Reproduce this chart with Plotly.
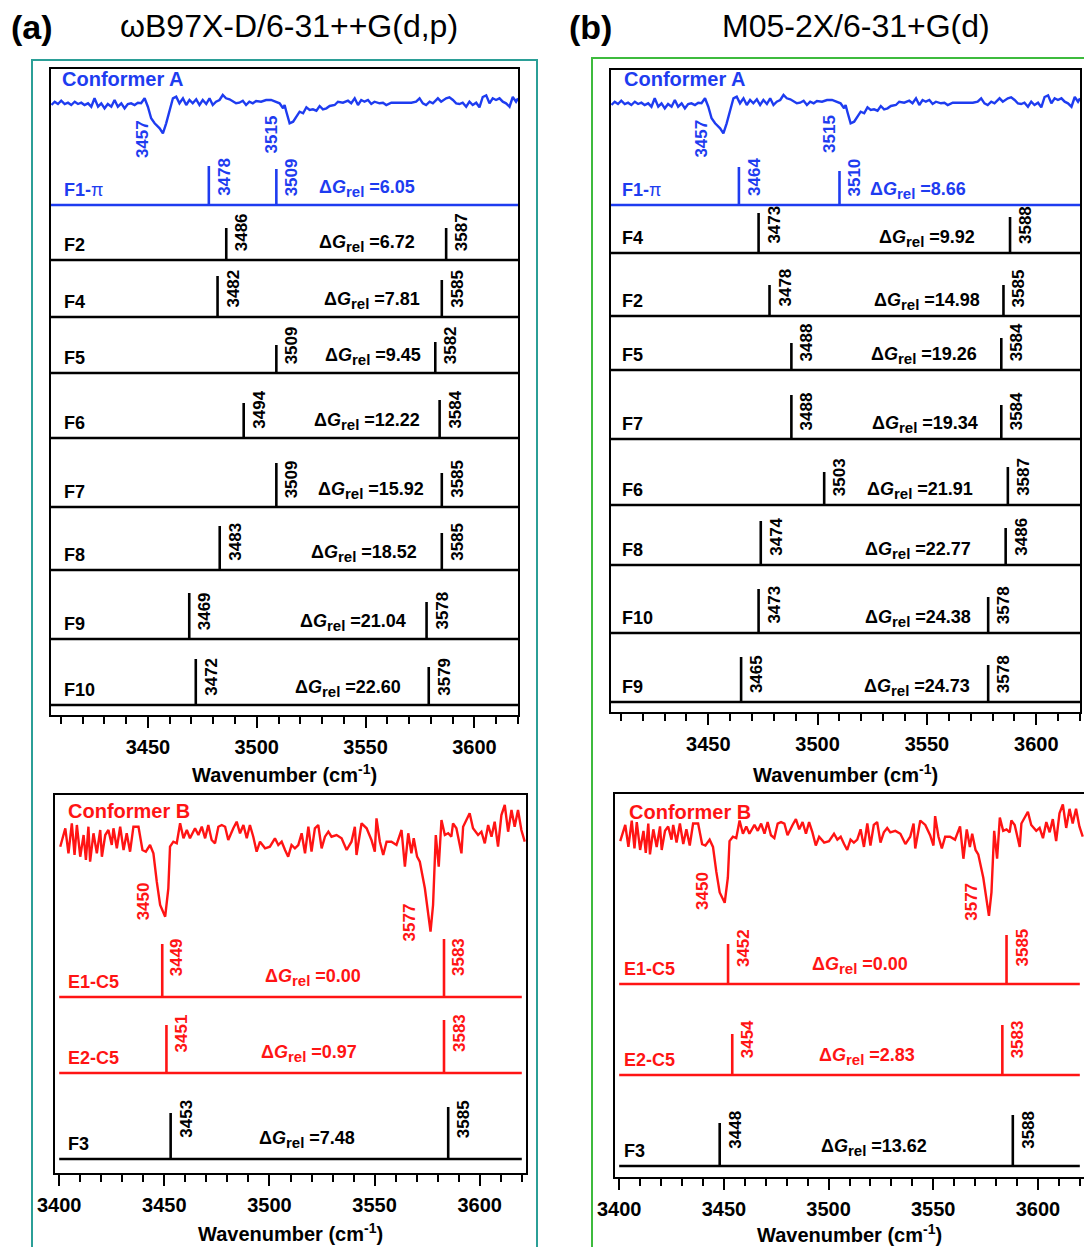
import plotly.graph_objects as go

# ===================== DATA =====================
# Experimental IR-UV spectra (relative depletion, a.u.)
SPEC_A_WN = [3405.7, 3407.2, 3408.7, 3410.2, 3411.8, 3413.3, 3414.8, 3416.4, 3417.9, 3419.4,
             3420.9, 3422.5, 3424.0, 3425.5, 3427.1, 3428.6, 3430.1, 3431.6, 3433.2, 3434.7,
             3436.2, 3437.8, 3439.3, 3440.8, 3442.3, 3443.9, 3445.4, 3446.9, 3448.5, 3450.0,
             3451.5, 3453.1, 3455.4, 3456.9, 3458.4, 3459.9, 3461.5, 3463.0, 3464.5, 3466.1,
             3467.6, 3469.1, 3470.6, 3472.2, 3473.7, 3475.2, 3476.8, 3478.3, 3479.8, 3481.3,
             3482.9, 3484.4, 3485.9, 3487.5, 3489.0, 3490.5, 3492.0, 3493.6, 3495.1, 3496.6,
             3498.2, 3499.7, 3502.0, 3504.3, 3506.6, 3508.9, 3510.5, 3512.1, 3512.8, 3513.6,
             3515.1, 3516.7, 3518.2, 3519.7, 3521.3, 3522.8, 3524.3, 3525.8, 3527.4, 3528.9,
             3530.4, 3532.0, 3533.5, 3535.8, 3537.3, 3539.6, 3541.9, 3543.4, 3545.0, 3546.5,
             3548.0, 3549.5, 3551.1, 3552.6, 3554.1, 3556.4, 3558.0, 3559.5, 3561.8, 3564.1,
             3566.4, 3568.7, 3571.0, 3573.2, 3574.8, 3576.3, 3577.8, 3579.4, 3580.9, 3583.2,
             3584.7, 3587.0, 3588.5, 3590.1, 3591.6, 3593.1, 3594.6, 3596.2, 3597.7, 3599.2,
             3600.8, 3602.3, 3603.8, 3605.4, 3606.9, 3608.4, 3609.9, 3611.5, 3613.0, 3614.5,
             3616.1, 3617.6, 3619.1, 3620.0]
SPEC_A_INT = [-2.0, 1.3, -1.0, 2.3, -1.0, 0.3, -2.0, 1.3, -1.0, 0.3,
              -2.0, -0.3, -3.7, 4.7, -3.7, -0.3, -5.3, -1.0, -3.7, 3.0,
              -3.7, -0.3, -5.3, -1.0, -0.3, -2.0, 0.3, -0.3, 4.7, -3.7,
              -15.3, -20.3, -25.3, -30.3, -20.3, -7.0, 4.7, 6.3, -0.3, 4.7,
              -2.0, 3.0, -0.3, 3.7, -2.0, 3.0, -1.0, 4.7, -2.0, 1.3,
              3.0, 8.0, 4.7, 3.7, 1.3, -0.3, 0.3, 2.3, -2.0, 1.3,
              -0.3, 2.0, 1.3, 3.0, 3.0, 1.3, -0.3, -5.3, -2.0, -8.7,
              -20.3, -18.7, -13.7, -8.7, -10.3, -4.3, -7.0, -6.3, -7.7, -3.0,
              -6.3, -5.3, -3.0, -2.0, 1.3, 0.3, 2.3, -0.3, 4.7, -2.0,
              3.0, 1.3, 3.0, -1.0, 1.3, -0.3, 0.3, -2.0, 0.3, 0.3,
              -0.3, -0.3, 0.3, 1.3, 4.7, -0.3, -2.0, 1.3, -0.3, 4.7,
              1.3, 4.7, 5.7, 3.0, -0.3, -1.0, 0.3, -3.7, 1.3, -2.0,
              0.3, -4.3, 6.0, 7.7, -0.3, 4.7, 3.0, 4.7, 1.3, -0.3,
              -3.7, 6.0, 1.3, 4.7]
SPEC_B_WN = [3400.5, 3402.9, 3404.4, 3406.0, 3407.3, 3408.4, 3410.0, 3411.6, 3412.7, 3413.9,
             3414.7, 3416.3, 3417.9, 3419.5, 3420.3, 3421.9, 3423.4, 3425.0, 3425.8, 3427.4,
             3429.0, 3430.6, 3432.1, 3433.7, 3435.3, 3437.7, 3439.6, 3441.2, 3443.2, 3444.8,
             3446.4, 3448.0, 3450.4, 3451.9, 3452.7, 3454.3, 3455.9, 3457.5, 3459.1, 3460.7,
             3462.2, 3464.6, 3466.2, 3467.8, 3469.4, 3470.9, 3472.5, 3474.1, 3475.7, 3477.3,
             3478.9, 3480.4, 3482.8, 3484.4, 3486.0, 3487.6, 3489.2, 3490.7, 3492.3, 3493.9,
             3495.5, 3497.9, 3500.2, 3502.6, 3504.2, 3505.8, 3507.4, 3508.9, 3510.5, 3512.1,
             3513.7, 3515.3, 3516.9, 3518.5, 3520.0, 3521.6, 3523.2, 3524.8, 3526.4, 3528.0,
             3529.5, 3531.9, 3534.3, 3536.7, 3539.0, 3540.6, 3541.4, 3543.8, 3546.2, 3548.5,
             3550.1, 3550.9, 3552.5, 3554.1, 3555.7, 3558.0, 3560.4, 3562.8, 3564.4, 3566.0,
             3567.5, 3568.6, 3570.2, 3571.5, 3573.9, 3575.5, 3576.6, 3577.8, 3579.1, 3580.5,
             3581.8, 3583.4, 3585.0, 3586.5, 3587.3, 3588.9, 3591.3, 3592.1, 3593.7, 3595.2,
             3596.8, 3599.2, 3600.8, 3602.4, 3604.0, 3605.6, 3607.1, 3608.7, 3610.3, 3611.9,
             3613.5, 3615.1, 3616.6, 3618.2, 3619.8, 3621.4]
SPEC_B_INT = [-4.7, 13.7, -11.3, 18.7, -13.0, 17.0, -14.7, 7.0, -18.0, 15.3,
              -19.7, 8.7, -11.3, 12.0, -14.7, 7.0, 12.0, -3.0, 13.7, -6.3,
              15.3, -8.0, 8.7, -9.7, 15.3, 15.3, -8.0, -9.7, -3.0, -11.3,
              -39.7, -63.0, -74.7, -46.3, -4.7, 0.3, -1.3, 18.7, 3.7, 12.0,
              3.7, 13.7, 7.0, 15.3, 3.7, 17.0, 2.0, -1.3, 15.3, 17.0,
              15.3, 2.0, 13.7, 20.3, 8.7, 17.0, 3.7, 17.0, 5.3, -9.7,
              0.3, -6.3, -4.7, 3.7, -3.0, 0.3, -8.0, -14.7, -3.0, -6.3,
              -3.0, 8.7, -11.3, 15.3, -9.7, 13.7, 17.0, -6.3, 5.3, 10.3,
              5.3, 7.0, 3.7, -8.0, 0.3, 15.3, -13.0, 18.7, 13.7, 2.0,
              -9.7, 23.7, 0.3, -13.0, 0.3, 0.3, -3.0, 12.0, -24.7, 8.7,
              -11.3, 3.7, -14.7, -19.7, -46.3, -73.0, -89.7, -63.0, 7.0, -24.7,
              22.0, 7.0, 8.7, 5.3, 18.7, 13.7, -11.3, 15.3, 22.0, 28.7,
              13.7, 7.0, 10.3, -1.3, 17.0, 5.3, 20.3, -4.7, 27.0, 37.0,
              10.3, 32.0, 15.3, 32.0, 12.0, 0.3]
PEAKS_A = [3457, 3515]
PEAKS_B = [3450, 3577]

# (a) wB97X-D/6-31++G(d,p) -- conformer A candidates
A_TOP_NAMES = ["F1-π", "F2", "F4", "F5", "F6", "F7", "F8", "F9", "F10"]
A_TOP_FREQ = [[3478, 3509], [3486, 3587], [3482, 3585], [3509, 3582], [3494, 3584],
              [3509, 3585], [3483, 3585], [3469, 3578], [3472, 3579]]
A_TOP_LABEL = [["3478", "3509"], ["3486", "3587"], ["3482", "3585"], ["3509", "3582"], ["3494", "3584"],
               ["3509", "3585"], ["3483", "3585"], ["3469", "3578"], ["3472", "3579"]]
A_TOP_INT = [[39, 36], [32, 32], [41, 37], [28, 31], [35, 38], [44, 34], [44, 37], [46, 37], [46, 38]]
A_TOP_DG = ["6.05", "6.72", "7.81", "9.45", "12.22", "15.92", "18.52", "21.04", "22.60"]

# (a) conformer B candidates
A_BOT_NAMES = ["E1-C5", "E2-C5", "F3"]
A_BOT_FREQ = [[3449, 3583], [3451, 3583], [3453, 3585]]
A_BOT_LABEL = [["3449", "3583"], ["3451", "3583"], ["3453", "3585"]]
A_BOT_INT = [[53, 58], [48, 53], [46, 52]]
A_BOT_DG = ["0.00", "0.97", "7.48"]

# (b) M05-2X/6-31+G(d) -- conformer A candidates
B_TOP_NAMES = ["F1-π", "F4", "F2", "F5", "F7", "F6", "F8", "F10", "F9"]
B_TOP_FREQ = [[3464, 3510], [3473, 3588], [3478, 3585], [3488, 3584], [3488, 3584],
              [3503, 3587], [3474, 3586], [3473, 3578], [3465, 3578]]
B_TOP_LABEL = [["3464", "3510"], ["3473", "3588"], ["3478", "3585"], ["3488", "3584"], ["3488", "3584"],
               ["3503", "3587"], ["3474", "3486"], ["3473", "3578"], ["3465", "3578"]]
B_TOP_INT = [[38, 34], [40, 36], [31, 31], [27, 32], [44, 34], [33, 38], [44, 37], [44, 36], [45, 37]]
B_TOP_DG = ["8.66", "9.92", "14.98", "19.26", "19.34", "21.91", "22.77", "24.38", "24.73"]

# (b) conformer B candidates
B_BOT_NAMES = ["E1-C5", "E2-C5", "F3"]
B_BOT_FREQ = [[3452, 3585], [3454, 3583], [3448, 3588]]
B_BOT_LABEL = [["3452", "3585"], ["3454", "3583"], ["3448", "3588"]]
B_BOT_INT = [[40, 49], [41, 50], [43, 51]]
B_BOT_DG = ["0.00", "2.83", "13.62"]

# ===================== STYLE / LAYOUT =====================
W, H = 1084, 1247
FONT = "Liberation Sans, Arial, Helvetica, sans-serif"
BLUE = "#1e3cf0"
RED = "#ff1414"
BLACK = "#000000"
TEAL = "#2b9f97"
GREEN = "#3dbb3d"

PANELS = [
    dict(n=1, names=A_TOP_NAMES, freq=A_TOP_FREQ, flab=A_TOP_LABEL, inten=A_TOP_INT, dg=A_TOP_DG,
         colors=[BLUE] + [BLACK] * 8, xdom=(51, 518), box=(69, 715), xr=(3405.5, 3620), span=(3405.5, 3620),
         base=[205, 260, 317, 373, 438, 507, 570, 639, 705],
         dgx=[3550.7, 3550.7, 3553, 3553.4, 3550.7, 3552.5, 3549.3, 3544.2, 3542], dg_shift=3,
         lab_shift=7, name_dx=11, spec=(SPEC_A_WN, SPEC_A_INT), spec_color=BLUE, spec_base=103,
         spec_scale=1.0, spec_name="Conformer A", spec_name_dx=9, spec_name_py=78.5,
         peaks=PEAKS_A, peak_dx=[-21, -18], peak_py=[160, 155], title_py=773),
    dict(n=2, names=A_BOT_NAMES, freq=A_BOT_FREQ, flab=A_BOT_LABEL, inten=A_BOT_INT, dg=A_BOT_DG,
         colors=[RED, RED, BLACK], xdom=(55, 526), box=(795, 1173), xr=(3398, 3622), span=(3400, 3620),
         base=[997, 1073, 1159], dgx=[3520.5, 3519, 3518], dg_shift=6,
         lab_shift=19, name_dx=11, spec=(SPEC_B_WN, SPEC_B_INT), spec_color=RED, spec_base=842,
         spec_scale=1.0, spec_name="Conformer B", spec_name_dx=11, spec_name_py=811.5,
         peaks=PEAKS_B, peak_dx=[-20, -21], peak_py=[922, 943], title_py=1232),
    dict(n=3, names=B_TOP_NAMES, freq=B_TOP_FREQ, flab=B_TOP_LABEL, inten=B_TOP_INT, dg=B_TOP_DG,
         colors=[BLUE] + [BLACK] * 8, xdom=(611, 1080), box=(70, 712), xr=(3405.5, 3620), span=(3405.5, 3620),
         base=[205, 253, 316, 370, 439, 505, 565, 633, 702],
         dgx=[3546, 3550, 3550, 3548.6, 3549, 3546.8, 3546, 3546, 3545.6], dg_shift=1,
         lab_shift=7, name_dx=9, spec=(SPEC_A_WN, SPEC_A_INT), spec_color=BLUE, spec_base=103,
         spec_scale=1.0, spec_name="Conformer A", spec_name_dx=11, spec_name_py=78.5,
         peaks=PEAKS_A, peak_dx=[-23, -21.5], peak_py=[160, 155], title_py=773),
    dict(n=4, names=B_BOT_NAMES, freq=B_BOT_FREQ, flab=B_BOT_LABEL, inten=B_BOT_INT, dg=B_BOT_DG,
         colors=[RED, RED, BLACK], xdom=(615, 1084), box=(794, 1177), xr=(3398, 3622), span=(3400, 3620),
         base=[984, 1075, 1166], dgx=[3515.2, 3518.5, 3521.9], dg_shift=5,
         lab_shift=15, name_dx=7, spec=(SPEC_B_WN, SPEC_B_INT), spec_color=RED, spec_base=837,
         spec_scale=0.88, spec_name="Conformer B", spec_name_dx=12, spec_name_py=811.5,
         peaks=PEAKS_B, peak_dx=[-22, -19], peak_py=[912, 923], title_py=1233),
]

fig = go.Figure()
annotations = []


def ann(size=18, color=BLACK, **kw):
    d = dict(showarrow=False, font=dict(family=FONT, size=size, color=color))
    d.update(kw)
    annotations.append(d)


layout_axes = {}
for p in PANELS:
    n = p["n"]
    xa = "x" if n == 1 else f"x{n}"
    ya = "y" if n == 1 else f"y{n}"
    xkey = "xaxis" if n == 1 else f"xaxis{n}"
    ykey = "yaxis" if n == 1 else f"yaxis{n}"
    top_px, bot_px = p["box"]

    def yu(py, b=bot_px):
        return b - py

    # experimental spectrum
    wn, inten = p["spec"]
    off = yu(p["spec_base"])
    fig.add_trace(go.Scatter(x=wn, y=[off + p["spec_scale"] * v for v in inten], xaxis=xa, yaxis=ya,
                             mode="lines", line=dict(color=p["spec_color"], width=2.4),
                             hoverinfo="skip", showlegend=False))
    ann(text=f"<b>{p['spec_name']}</b>", xref=f"{xa} domain", x=0, xanchor="left", xshift=p["spec_name_dx"],
        yref=ya, y=yu(p["spec_name_py"]), yanchor="middle", size=20, color=p["spec_color"])
    for k, pk in enumerate(p["peaks"]):
        ann(text=f"<b>{pk}</b>", textangle=-90, xref=xa, x=pk, xanchor="center", xshift=p["peak_dx"][k],
            yref=ya, y=yu(p["peak_py"][k]), yanchor="bottom", size=17, color=p["spec_color"])

    # calculated stick spectra
    for i, name in enumerate(p["names"]):
        c = p["colors"][i]
        b = yu(p["base"][i])
        fig.add_trace(go.Scatter(x=list(p["span"]), y=[b, b], xaxis=xa, yaxis=ya, mode="lines",
                                 line=dict(color=c, width=2.6), hoverinfo="skip", showlegend=False))
        f1, f2 = p["freq"][i]
        h1, h2 = p["inten"][i]
        fig.add_trace(go.Scatter(x=[f1, f1, None, f2, f2], y=[b, b + h1, None, b, b + h2], xaxis=xa, yaxis=ya,
                                 mode="lines", line=dict(color=c, width=2.6), hoverinfo="skip", showlegend=False))
        for f, lab in zip(p["freq"][i], p["flab"][i]):
            ann(text=f"<b>{lab}</b>", textangle=-90, xref=xa, x=f, xanchor="center", xshift=15,
                yref=ya, y=b, yanchor="bottom", yshift=p["lab_shift"], size=17, color=c)
        txt = "<b>F1-</b>π" if "π" in name else f"<b>{name}</b>"
        ann(text=txt, xref=f"{xa} domain", x=0, xanchor="left", xshift=p["name_dx"],
            yref=ya, y=b, yanchor="bottom", yshift=3, size=18, color=c)
        ann(text=f"<b>Δ<i>G</i><sub><span style='font-size:15px'>rel</span></sub> ={p['dg'][i]}</b>",
            xref=xa, x=p["dgx"][i], xanchor="center",
            yref=ya, y=b, yanchor="bottom", yshift=p["dg_shift"], size=18, color=c)

    ann(text="<b>Wavenumber (cm<sup>-1</sup>)</b>", xref=f"{xa} domain", x=0.5, xanchor="center",
        yref="paper", y=1 - p["title_py"] / H, yanchor="middle", size=20)

    layout_axes[xkey] = dict(
        domain=[p["xdom"][0] / W, min(1.0, p["xdom"][1] / W)], range=list(p["xr"]), anchor=ya,
        showgrid=False, zeroline=False, showline=True, linewidth=2, linecolor="black", mirror=True,
        ticks="outside", ticklen=11, tickwidth=2, tickcolor="black", tickmode="linear", tick0=3400, dtick=50,
        minor=dict(ticks="outside", ticklen=7, tickwidth=2, tickcolor="black", tick0=3400, dtick=10,
                   showgrid=False),
        tickfont=dict(family=FONT, size=20, color="black", weight="bold"), ticklabelstandoff=2,
        automargin=False, fixedrange=True)
    layout_axes[ykey] = dict(
        domain=[1 - bot_px / H, 1 - top_px / H], range=[0, bot_px - top_px], anchor=xa,
        showgrid=False, zeroline=False, showline=True, linewidth=2, linecolor="black", mirror=True,
        showticklabels=False, ticks="", automargin=False, fixedrange=True)

# panel headers
ann(text="<b>(a)</b>", xref="paper", yref="paper", x=32 / W, y=1 - 27 / H, xanchor="center", yanchor="middle", size=34)
ann(text="ωB97X-D/6-31++G(d,p)", xref="paper", yref="paper", x=289 / W, y=1 - 26 / H,
    xanchor="center", yanchor="middle", size=32)
ann(text="<b>(b)</b>", xref="paper", yref="paper", x=590 / W, y=1 - 27 / H, xanchor="center", yanchor="middle", size=34)
ann(text="M05-2X/6-31+G(d)", xref="paper", yref="paper", x=856 / W, y=1 - 26 / H,
    xanchor="center", yanchor="middle", size=32)

shapes = [
    dict(type="rect", xref="paper", yref="paper", x0=32 / W, x1=537 / W, y0=-0.01, y1=1 - 60 / H,
         line=dict(color=TEAL, width=2), fillcolor="rgba(0,0,0,0)", layer="below"),
    dict(type="rect", xref="paper", yref="paper", x0=592 / W, x1=1.01, y0=-0.01, y1=1 - 58 / H,
         line=dict(color=GREEN, width=2), fillcolor="rgba(0,0,0,0)", layer="below"),
]

fig.update_layout(width=W, height=H, autosize=False,
                  margin=dict(l=0, r=0, t=0, b=0, pad=0, autoexpand=False),
                  paper_bgcolor="white", plot_bgcolor="white", showlegend=False, hovermode=False,
                  font=dict(family=FONT, color="black"), annotations=annotations, shapes=shapes,
                  **layout_axes)

fig.write_html("out.html", config=dict(displayModeBar=False),
               post_script="document.body.style.margin='0';document.body.style.overflow='hidden';")
